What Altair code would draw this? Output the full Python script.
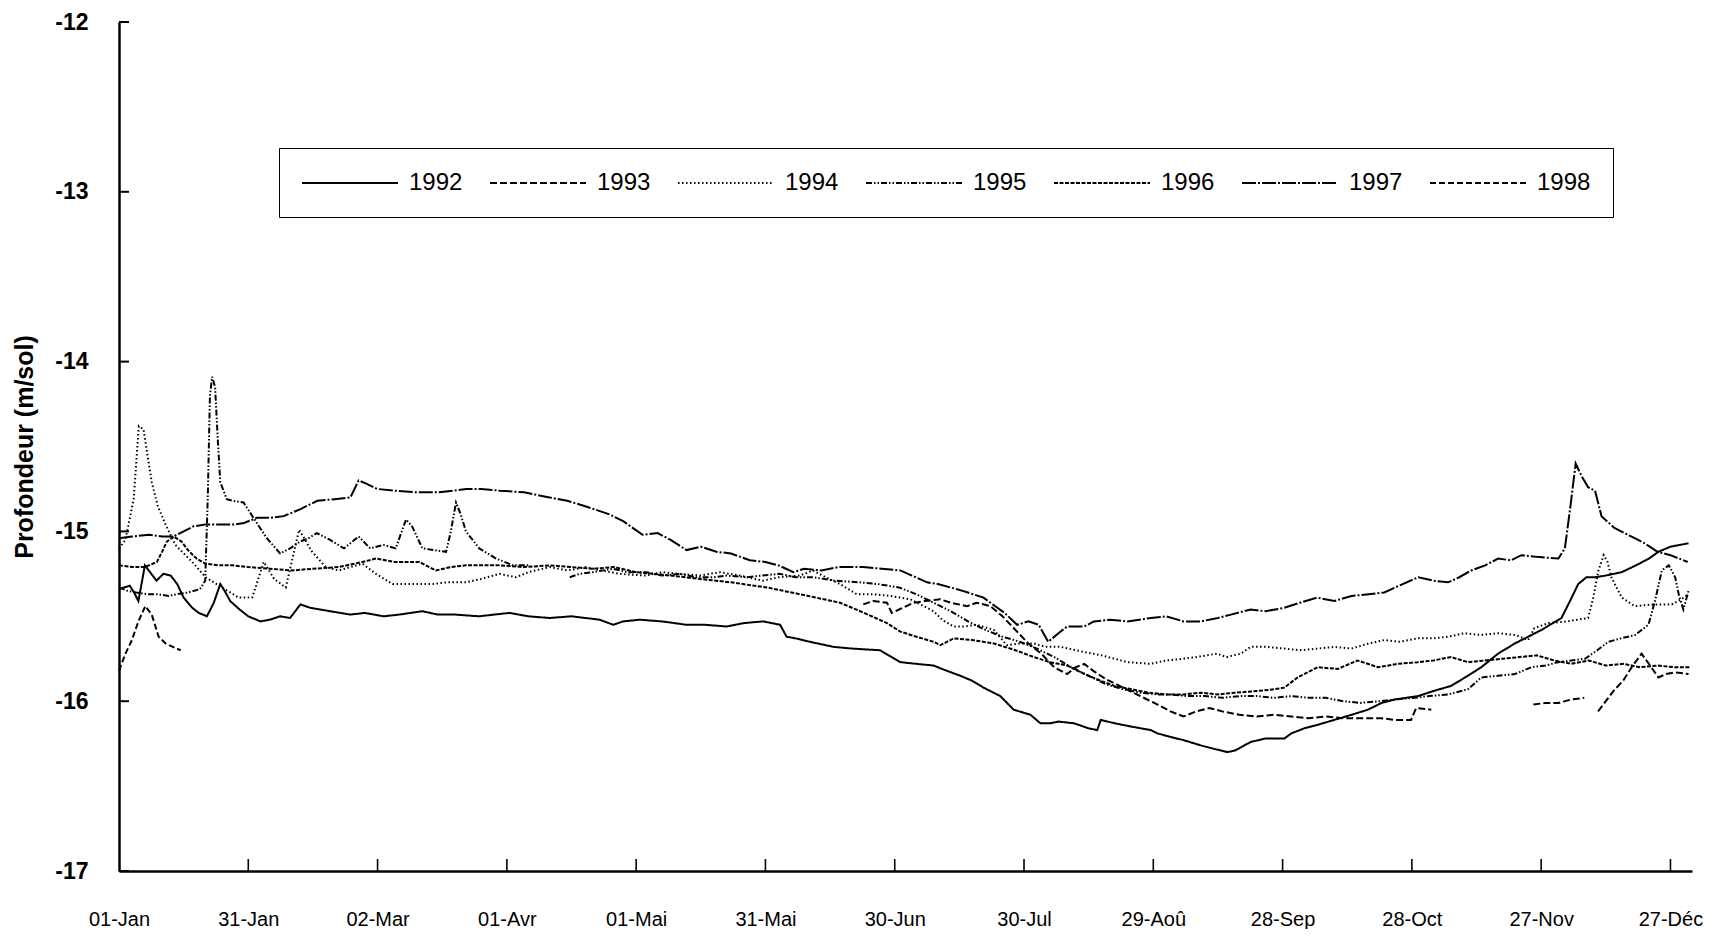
import altair as alt
import pandas as pd

YEARS = ["1992", "1993", "1994", "1995", "1996", "1997", "1998"]
DASHES = [[1, 0], [7, 3], [1.5, 2.5], [6, 2, 1.5, 2, 1.5, 2], [4, 1.5], [14, 2, 2, 2], [6, 3]]

X_TICK_DAYS = [0, 30, 60, 90, 120, 150, 180, 210, 240, 270, 300, 330, 360]
X_TICK_LABELS = ["01-Jan", "31-Jan", "02-Mar", "01-Avr", "01-Mai", "31-Mai", "30-Jun",
                 "30-Jul", "29-Aoû", "28-Sep", "28-Oct", "27-Nov", "27-Déc"]
Y_TICKS = [-12, -13, -14, -15, -16, -17]

# (day of year, depth m)
Y1992 = [(0, -15.34), (1.2, -15.33), (2.5, -15.32), (3.5, -15.36), (4.5, -15.41), (5.3, -15.30), (6, -15.20),
         (7.2, -15.24), (8.7, -15.29), (10.3, -15.25), (12, -15.26), (13.5, -15.31), (15, -15.39), (17, -15.45),
         (18.5, -15.48), (20.4, -15.50), (22, -15.42), (23.5, -15.31), (24.5, -15.35), (25.8, -15.41), (28, -15.46),
         (30, -15.50), (32.8, -15.53), (35, -15.52), (37.4, -15.50), (39.7, -15.51), (42.1, -15.43), (44.4, -15.45),
         (49, -15.47), (53.7, -15.49), (57, -15.48), (61.4, -15.50), (65, -15.49), (70.4, -15.47), (74, -15.49),
         (78, -15.49), (83.6, -15.50), (87, -15.49), (90.6, -15.48), (95, -15.50), (99.9, -15.51), (105, -15.50),
         (111.5, -15.52), (114.7, -15.55), (117, -15.53), (120.8, -15.52), (126, -15.53), (131.7, -15.55),
         (136, -15.55), (141, -15.56), (145, -15.54), (149.5, -15.53), (153.4, -15.55), (154.9, -15.62),
         (157, -15.63), (160.3, -15.65), (165.8, -15.68), (170, -15.69), (176.6, -15.70), (181.3, -15.77),
         (185, -15.78), (189, -15.79), (192, -15.82), (195.2, -15.85), (198, -15.88), (200.6, -15.92),
         (204.5, -15.97), (207.6, -16.05), (211.5, -16.08), (213.8, -16.13), (216.1, -16.13), (218, -16.12),
         (221.6, -16.13), (225, -16.16), (227, -16.17), (227.8, -16.11), (231, -16.13), (235, -16.15),
         (239.4, -16.17), (241, -16.19), (244, -16.21), (247.1, -16.23), (251, -16.26), (254, -16.28),
         (257.2, -16.30), (259, -16.29), (262.6, -16.24), (266, -16.22), (270.4, -16.22), (272, -16.19),
         (275, -16.16), (278, -16.14), (282, -16.11), (286, -16.08), (289.8, -16.05), (293, -16.01), (296, -15.99),
         (301.4, -15.97), (305, -15.94), (309.1, -15.91), (313, -15.85), (316.1, -15.80), (320, -15.72),
         (323.9, -15.66), (327, -15.62), (330.1, -15.58), (334.7, -15.51), (336.5, -15.42), (338.6, -15.31),
         (340.5, -15.27), (342.5, -15.27), (345, -15.26), (348.7, -15.24), (352, -15.20), (355, -15.16),
         (357.2, -15.12), (360, -15.09), (364.2, -15.07)]

Y1993_A = [(172.7, -15.43), (175, -15.41), (178.2, -15.42), (179.3, -15.48), (181, -15.46), (184.4, -15.42),
           (187, -15.41), (190.6, -15.40), (193, -15.42), (196.8, -15.44), (199, -15.42), (202.2, -15.44),
           (205, -15.50), (208, -15.58), (211, -15.66), (214, -15.72), (217, -15.80), (220, -15.84), (222, -15.80),
           (224, -15.78), (226, -15.82), (229, -15.87), (233, -15.92), (237, -15.97), (241, -16.02), (244, -16.06),
           (247, -16.09), (250, -16.06), (253, -16.04), (256, -16.06), (260, -16.08), (264, -16.09), (268, -16.08),
           (272, -16.09), (276, -16.10), (280, -16.09), (284, -16.10), (288, -16.10), (292.9, -16.10),
           (296, -16.11), (299.8, -16.11), (301, -16.04), (304.5, -16.05)]
Y1993_B = [(328.2, -16.02), (331, -16.01), (334, -16.01), (337, -15.99), (340, -15.98)]
Y1993_C = [(343.2, -16.06), (345, -16.00), (347.1, -15.93), (349, -15.88), (351, -15.80), (353.3, -15.72),
           (355, -15.78), (357.2, -15.86), (359, -15.84), (361, -15.83), (364.2, -15.84)]

Y1994 = [(0, -15.10), (1.5, -15.05), (3.4, -14.81), (4.6, -14.38), (5.7, -14.40), (6.6, -14.55), (7.6, -14.71),
         (9, -14.85), (10.8, -14.96), (13.1, -15.08), (17, -15.18), (20.1, -15.27), (23.9, -15.33), (27.8, -15.39),
         (30.9, -15.39), (33.6, -15.18), (36, -15.28), (38.7, -15.33), (41.8, -14.99), (44.8, -15.12), (48, -15.21),
         (51, -15.23), (56.5, -15.19), (59.6, -15.25), (63.5, -15.31), (68, -15.31), (72.8, -15.31), (76, -15.30),
         (80.5, -15.30), (84, -15.28), (88.3, -15.25), (92.1, -15.27), (95, -15.24), (99.9, -15.21), (104, -15.23),
         (108.4, -15.21), (112, -15.23), (116.2, -15.25), (122.4, -15.26), (126, -15.24), (130.1, -15.25),
         (134.8, -15.26), (139.4, -15.24), (144, -15.26), (149.4, -15.29), (153, -15.27), (158, -15.26),
         (161, -15.23), (164, -15.27), (167.3, -15.31), (171.2, -15.37), (175, -15.37), (179, -15.38),
         (183.6, -15.40), (186, -15.43), (189, -15.47), (191, -15.52), (193.6, -15.56), (196, -15.56), (199, -15.55),
         (203, -15.58), (206, -15.67), (209, -15.66), (212.3, -15.66), (215, -15.68), (218.5, -15.68),
         (223.9, -15.71), (228, -15.73), (234, -15.77), (239.4, -15.78), (243, -15.76), (247, -15.75), (250, -15.74),
         (254.8, -15.72), (257, -15.74), (260.3, -15.72), (262.6, -15.68), (266, -15.68), (270.4, -15.69),
         (274, -15.70), (278.2, -15.69), (282, -15.68), (286, -15.69), (290, -15.66), (293.6, -15.64),
         (297, -15.65), (301.5, -15.63), (305, -15.63), (308.4, -15.62), (312.2, -15.60), (316, -15.61),
         (320, -15.60), (324, -15.61), (327, -15.64), (328.4, -15.57), (331.7, -15.54), (336, -15.53),
         (340.9, -15.51), (342, -15.40), (343.3, -15.23), (344.5, -15.14), (345.4, -15.18), (346.3, -15.27),
         (348.7, -15.39), (351.7, -15.44), (356.3, -15.43), (360.3, -15.43), (362.5, -15.40), (364.2, -15.37)]

Y1995_A = [(0, -15.33), (2, -15.35), (4, -15.36), (6.5, -15.37), (9, -15.37), (11.5, -15.38), (13.4, -15.37),
           (16, -15.36), (18.8, -15.34), (20, -15.29), (20.6, -14.80), (21.1, -14.20), (21.6, -14.09),
           (22.3, -14.15), (22.9, -14.45), (23.5, -14.71), (25, -14.81), (26.5, -14.82), (28.9, -14.83),
           (31.2, -14.92), (34.3, -15.04), (37.4, -15.13), (39.7, -15.10), (42, -15.06), (44, -15.04),
           (45.9, -15.01), (49, -15.05), (52.2, -15.10), (55.6, -15.03), (58.3, -15.10), (61.4, -15.08),
           (64.2, -15.10), (66.6, -14.93), (68, -14.97), (70.4, -15.10), (73, -15.11), (75.9, -15.12), (77, -15.00),
           (78.2, -14.83), (79.3, -14.90), (80.5, -15.00), (83.6, -15.10), (87.5, -15.16), (91.4, -15.20),
           (95.2, -15.20)]
Y1995_B = [(104.6, -15.27), (106.9, -15.25), (110, -15.24), (114.6, -15.22), (118, -15.24), (122.4, -15.24),
           (126, -15.26), (130.1, -15.25), (134, -15.27), (137.9, -15.27), (141, -15.26), (145.6, -15.27),
           (149, -15.26), (153.3, -15.25), (157, -15.27), (161.1, -15.27), (166, -15.29), (171.9, -15.30),
           (176, -15.31), (181, -15.33), (185, -15.37), (189, -15.42), (193, -15.47), (197, -15.53), (201, -15.58),
           (205, -15.62), (209, -15.65), (213, -15.69), (217, -15.74), (221, -15.80), (225, -15.85), (229, -15.90),
           (233, -15.93), (237, -15.95), (241, -15.96), (244, -15.96), (248, -15.97), (252, -15.97), (256, -15.98),
           (260, -15.97), (264, -15.97), (268, -15.98), (272, -15.97), (276, -15.98), (280, -15.98), (284, -16.00),
           (288, -16.01), (292.9, -16.00), (296, -15.99), (300.6, -15.98), (304, -15.97), (308.4, -15.96),
           (313, -15.93), (316.1, -15.86), (320, -15.85), (323.9, -15.84), (327.7, -15.80), (331, -15.79),
           (334, -15.77), (337, -15.76), (340.2, -15.75), (343, -15.70), (345.6, -15.65), (348.5, -15.63),
           (351.8, -15.61), (354.9, -15.55), (356.5, -15.40), (358, -15.23), (359.6, -15.20), (361.1, -15.27),
           (362, -15.38), (363, -15.46), (364.2, -15.35)]

Y1996 = [(0, -15.20), (3, -15.21), (6, -15.21), (8.8, -15.18), (10, -15.12), (11.1, -15.06), (12.7, -15.03),
         (14.5, -15.06), (16, -15.11), (18, -15.16), (20, -15.19), (23, -15.20), (26.3, -15.20), (30, -15.21),
         (35, -15.22), (40.2, -15.23), (45, -15.22), (51, -15.21), (56.5, -15.18), (59.6, -15.16), (64, -15.18),
         (69.7, -15.18), (73.5, -15.23), (77, -15.21), (80.5, -15.20), (88.3, -15.20), (94, -15.21), (99.9, -15.20),
         (105, -15.21), (110, -15.22), (115, -15.21), (120, -15.24), (128, -15.26), (134.8, -15.28), (142, -15.30),
         (150.3, -15.33), (158, -15.37), (167.3, -15.42), (172, -15.47), (178.2, -15.54), (181.3, -15.59),
         (185, -15.62), (189, -15.65), (190.6, -15.67), (193.7, -15.63), (198, -15.64), (203, -15.66),
         (208, -15.70), (212.3, -15.74), (216, -15.77), (220, -15.79), (224, -15.84), (227.8, -15.88),
         (231, -15.91), (235, -15.93), (239, -15.95), (243, -15.96), (247, -15.96), (251, -15.95), (255, -15.96),
         (259, -15.95), (264.2, -15.94), (268, -15.93), (270.4, -15.92), (273.5, -15.86), (276.6, -15.82),
         (278.1, -15.80), (282.8, -15.81), (287.4, -15.76), (292.1, -15.80), (296.8, -15.78), (301.4, -15.77),
         (305, -15.76), (309.1, -15.74), (313, -15.77), (317, -15.76), (321, -15.75), (325, -15.74), (329, -15.73),
         (333, -15.76), (337, -15.78), (341, -15.76), (345, -15.79), (349, -15.78), (353, -15.80), (357, -15.79),
         (361, -15.80), (364.5, -15.80)]

Y1997 = [(0, -15.04), (3, -15.03), (7, -15.02), (10, -15.03), (12.6, -15.03), (15, -15.00), (17.3, -14.97),
         (20, -14.96), (23, -14.96), (26.6, -14.96), (29, -14.95), (32, -14.92), (35, -14.92), (38.2, -14.91),
         (42, -14.87), (46, -14.82), (50, -14.81), (53.7, -14.80), (55.6, -14.70), (57.5, -14.72), (59.9, -14.75),
         (63.8, -14.76), (69.2, -14.77), (74.3, -14.77), (80.6, -14.75), (84, -14.75), (88.3, -14.76),
         (94, -14.77), (99.9, -14.80), (104, -14.82), (108, -14.85), (113.8, -14.90), (117, -14.94),
         (121.5, -15.02), (125, -15.01), (128, -15.05), (131.7, -15.11), (135, -15.09), (138.6, -15.12),
         (142, -15.13), (146.4, -15.17), (150, -15.18), (153, -15.20), (156.5, -15.24), (159, -15.22),
         (163, -15.23), (167, -15.21), (172.7, -15.21), (177, -15.22), (181.3, -15.23), (184, -15.26),
         (187.5, -15.30), (190, -15.31), (194.4, -15.34), (197, -15.36), (200.6, -15.39), (202.2, -15.42),
         (205.5, -15.48), (208.4, -15.55), (211, -15.53), (213.4, -15.55), (215.6, -15.65), (218, -15.60),
         (220, -15.56), (224, -15.56), (226.2, -15.53), (230, -15.52), (234, -15.53), (239.4, -15.51),
         (243, -15.50), (247, -15.53), (251, -15.53), (255, -15.51), (258, -15.49), (262.6, -15.46), (266, -15.47),
         (270.4, -15.45), (274, -15.42), (278, -15.39), (282, -15.41), (286, -15.38), (290, -15.37),
         (293.6, -15.36), (297, -15.32), (301.5, -15.27), (305, -15.29), (308.4, -15.30), (311, -15.27),
         (313.8, -15.23), (317, -15.20), (320, -15.16), (323, -15.17), (325.4, -15.14), (329, -15.15),
         (334, -15.16), (335.5, -15.10), (336.8, -14.85), (338, -14.60), (339.5, -14.68), (340.9, -14.74),
         (342.5, -14.76), (344, -14.91), (347, -14.98), (351.7, -15.04), (354, -15.07), (357, -15.12),
         (360, -15.14), (364, -15.18)]

Y1998 = [(0, -15.82), (1.5, -15.72), (3, -15.64), (4.5, -15.53), (6.1, -15.44), (7.6, -15.49), (9.2, -15.62),
         (10.8, -15.66), (12.5, -15.68), (14.3, -15.70)]

SERIES = [("1992", [Y1992]), ("1993", [Y1993_A, Y1993_B, Y1993_C]), ("1994", [Y1994]),
          ("1995", [Y1995_A, Y1995_B]), ("1996", [Y1996]), ("1997", [Y1997]), ("1998", [Y1998])]

rows = []
for year, segs in SERIES:
    for k, seg in enumerate(segs):
        for d, v in seg:
            rows.append({"year": year, "seg": f"{year}-{k}", "day": d, "depth": v})
df = pd.DataFrame(rows)

FONT = "Liberation Sans, Arial, sans-serif"
W, H = 1573, 849
x_scale = alt.Scale(domain=[0, 365], nice=False, zero=False)
y_scale = alt.Scale(domain=[-17, -12], nice=False, zero=False)
xlab_expr = "[" + ",".join("'" + s + "'" for s in X_TICK_LABELS) + "][round(datum.value / 30)]"

lines = alt.Chart(df).mark_line(color="black", strokeWidth=2).encode(
    x=alt.X("day:Q", scale=x_scale,
            axis=alt.Axis(values=X_TICK_DAYS, labelExpr=xlab_expr, title=None, grid=False,
                          ticks=False, tickSize=0, domainColor="black", domainWidth=2.5,
                          labelFont=FONT, labelFontSize=20, labelColor="black",
                          labelPadding=38, labelFlush=False)),
    y=alt.Y("depth:Q", scale=y_scale,
            axis=alt.Axis(values=Y_TICKS, labelExpr="'' + datum.value", title="Profondeur (m/sol)",
                          grid=False, ticks=False, tickSize=0, domainColor="black", domainWidth=2.5,
                          labelFont=FONT, labelFontSize=23, labelFontWeight="bold", labelColor="black",
                          labelPadding=31, labelFlush=False,
                          titleFont=FONT, titleFontSize=25, titleFontWeight="bold", titleColor="black",
                          titleX=-95, titleY=H / 2, titleAngle=270, titleAlign="center",
                          titleBaseline="middle")),
    strokeDash=alt.StrokeDash("year:N", scale=alt.Scale(domain=YEARS, range=DASHES),
                              legend=alt.Legend(title=None, orient="none", legendX=160, legendY=126,
                                                direction="horizontal", columns=7, columnPadding=23,
                                                symbolType="M-1,0L7,0", symbolSize=576,
                                                symbolStrokeWidth=1.8, symbolStrokeColor="black",
                                                symbolFillColor="transparent",
                                                labelFont=FONT, labelFontSize=24, labelColor="black",
                                                labelOffset=82, padding=22, strokeColor="black",
                                                fillColor="white")),
    detail="seg:N",
)

ytick_df = pd.DataFrame({"v": Y_TICKS})
yticks = alt.Chart(ytick_df).mark_rule(color="black", strokeWidth=2).encode(
    y=alt.Y("v:Q", scale=y_scale, axis=None), x=alt.value(0), x2=alt.value(10))

xtick_df = pd.DataFrame({"d": X_TICK_DAYS[1:]})
xticks = alt.Chart(xtick_df).mark_rule(color="black", strokeWidth=1.6).encode(
    x=alt.X("d:Q", scale=x_scale, axis=None), y=alt.value(H), y2=alt.value(H - 12))

chart = alt.layer(lines, yticks, xticks).resolve_axis(
    x="independent", y="independent"
).properties(
    width=W, height=H,
    padding={"left": 111, "top": 14, "right": 12, "bottom": 58},
    autosize=alt.AutoSizeParams(type="none"),
    background="white",
).configure_view(strokeWidth=0)

chart.save("out.html", embed_options={"renderer": "svg", "actions": False})
